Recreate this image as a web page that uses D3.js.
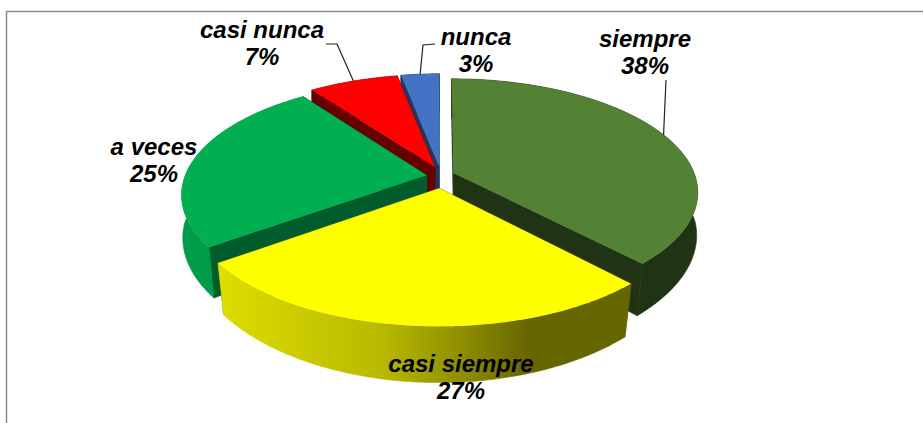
<!DOCTYPE html>
<html lang="es">
<head>
  <meta charset="UTF-8">
  <title>Pie 3D</title>
  <style>
    html, body {
      margin: 0;
      padding: 0;
      background: #fff;
      overflow: hidden;
    }
    svg {
      display: block;
    }
    .label {
      font-family: "Liberation Sans", Arial, sans-serif;
      font-size: 24px;
      font-weight: bold;
      font-style: italic;
      fill: #000;
      text-anchor: middle;
    }
    .leader {
      fill: none;
      stroke: #222;
      stroke-width: 1.2;
    }
    .frame {
      fill: none;
      stroke: #8c8c8c;
      stroke-width: 1.5;
    }
  </style>
  <script src="https://d3js.org/d3.v7.min.js"></script>
</head>
<body>
  <div id="chart"></div>
  <script>
/* global d3 */

var categories = ["siempre", "casi siempre", "a veces", "casi nunca", "nunca"];
var percents = [38, 27, 25, 7, 3];

var topColors = ["#548235", "#ffff00", "#00b050", "#ff0000", "#4472c4"];
var wallColors = ["#203314", "#666600", "#005c2d", "#660000", "#1f3864"];
var rimColors = ["#203314", "url(#yellowWall)", "#009c4a", "#660000", "#1f3864"];

// where the two lines of each label sit, and the leader elbow if it has one
var labelX = [645, 461, 154, 262, 476];
var labelY = [47, 372, 155, 38, 45];
var elbows = [[666, 80], null, null, [337, 44], [423, 45]];
var leaderStarts = [null, null, null, [326, 44], [435, 44]];

var width = 923,
  height = 423,
  cx = 440.5,
  cy = 177,
  scaleX = 242,
  scaleY = 111,
  persp = 0.166,
  explodeU = 0.058,
  explodeV = 0.1,
  depth = 46,
  shrink = 0.2;

var svg = d3.select("#chart")
  .append("svg")
  .attr("width", width)
  .attr("height", height);

var grad = svg.append("defs")
  .append("linearGradient")
  .attr("id", "yellowWall");
[[0, "#dede00"], [0.4, "#b8b800"], [0.6, "#8c8c00"], [0.75, "#666600"], [1, "#666600"]]
  .forEach(function (s) {
    grad.append("stop").attr("offset", s[0]).attr("stop-color", s[1]);
  });

svg.append("path")
  .attr("class", "frame")
  .attr("d", "M6.5," + height + "V11.5H" + width);

var pie = d3.pie().sort(null).value(function (d) { return d; });
var arcs = pie(percents);
var line = d3.line();

// pie plane -> screen, points near the viewer get bigger
function project(u, v) {
  var s = 1 / (1 - v * persp);
  return {x: cx + u * s * scaleX, y: cy + v * s * scaleY, s: s};
}

function topPoint(d, angle, r) {
  var mid = (d.startAngle + d.endAngle) / 2;
  return project(
    r * Math.sin(angle) + explodeU * Math.sin(mid),
    -r * Math.cos(angle) - explodeV * Math.cos(mid));
}

function xy(p) {
  return [p.x, p.y];
}

// the underside pulls inward more the nearer it is to the viewer
function bottom(p) {
  var k = 1 - shrink * Math.max(p.s - 1, 0);
  return [cx + (p.x - cx) * k, p.y + depth * p.s];
}

function rim(d) {
  var n = Math.ceil((d.endAngle - d.startAngle) / 0.01);
  return d3.range(n + 1).map(function (i) {
    return topPoint(d, d.startAngle + (d.endAngle - d.startAngle) * i / n, 1);
  });
}

function wall(a, b) {
  return line([xy(a), xy(b), bottom(b), bottom(a)]) + "Z";
}

// back to front, so the nearer slices cover the farther ones
var drawOrder = [4, 3, 2, 0, 1];

var slices = svg.selectAll(".slice")
  .data(drawOrder)
  .enter()
  .append("g")
  .attr("class", "slice");

slices.each(function (i) {
  var g = d3.select(this),
    d = arcs[i],
    pts = rim(d),
    apex = topPoint(d, 0, 0);

  // thin same-colour stroke closes the hairlines between the wall pieces
  g.append("path")
    .attr("d", wall(apex, pts[0]))
    .attr("fill", wallColors[i])
    .attr("stroke", wallColors[i])
    .attr("stroke-width", 0.6);
  g.append("path")
    .attr("d", wall(apex, pts[pts.length - 1]))
    .attr("fill", wallColors[i])
    .attr("stroke", wallColors[i])
    .attr("stroke-width", 0.6);

  g.append("path")
    .attr("d", line(pts.map(xy).concat(pts.slice().reverse().map(bottom))) + "Z")
    .attr("fill", rimColors[i])
    .attr("stroke", rimColors[i])
    .attr("stroke-width", 0.6);

  g.append("path")
    .attr("d", line([xy(apex)].concat(pts.map(xy))) + "Z")
    .attr("fill", topColors[i]);
});

arcs.forEach(function (d, i) {
  if (!elbows[i]) return;
  var end = topPoint(d, (d.startAngle + d.endAngle) / 2, 1);
  var pts = [elbows[i], xy(end)];
  if (leaderStarts[i]) pts.unshift(leaderStarts[i]);
  svg.append("path")
    .attr("class", "leader")
    .attr("d", line(pts));
});

categories.forEach(function (c, i) {
  var t = svg.append("text")
    .attr("class", "label")
    .attr("x", labelX[i])
    .attr("y", labelY[i]);
  t.append("tspan").text(c);
  t.append("tspan")
    .attr("x", labelX[i])
    .attr("dy", 27)
    .text(percents[i] + "%");
});
  </script>
</body>
</html>
